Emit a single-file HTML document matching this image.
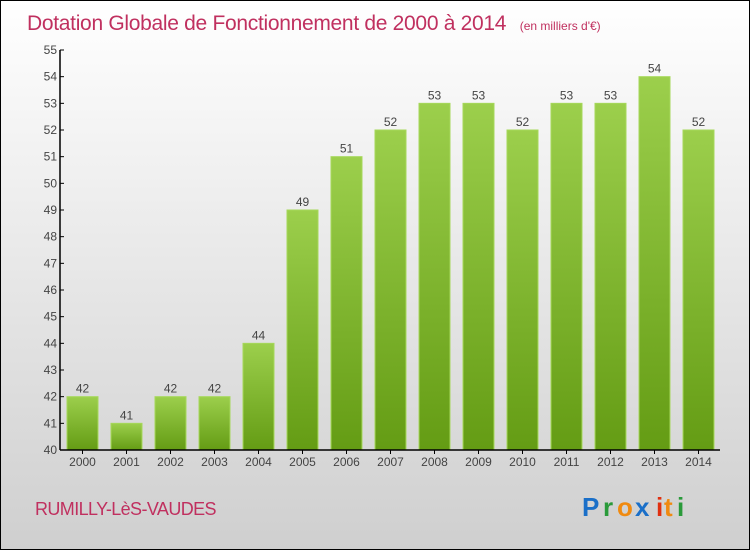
<!DOCTYPE html>
<html><head><meta charset="utf-8"><style>
body{margin:0;width:750px;height:550px;overflow:hidden}
svg{display:block;font-family:"Liberation Sans",sans-serif}
</style></head><body>
<svg id="c" width="750" height="550">
<defs>
<linearGradient id="bg" x1="0" y1="0" x2="0" y2="1"><stop offset="0" stop-color="#ffffff"/><stop offset="1" stop-color="#cfcfcf"/></linearGradient>
<linearGradient id="bar" x1="0" y1="0" x2="0" y2="1"><stop offset="0" stop-color="#9ccf4c"/><stop offset="1" stop-color="#649c14"/></linearGradient>
</defs>
<rect x="0.5" y="0.5" width="749" height="549" fill="url(#bg)" stroke="#000"/>
<text x="27" y="30" font-size="21" letter-spacing="-0.3" fill="#c0305f">Dotation Globale de Fonctionnement de 2000 à 2014 <tspan font-size="12" dx="8" letter-spacing="0">(en milliers d'€)</tspan></text>
<text x="35" y="515" font-size="18" letter-spacing="-0.6" fill="#c0305f">RUMILLY-LèS-VAUDES</text>
<g font-size="26" font-weight="bold">
<text x="582" y="516" fill="#1a6fc8">P</text><text x="603" y="516" fill="#2a9a3a">r</text><text x="617" y="516" fill="#f08a10">o</text><text x="635" y="516" fill="#1a6fc8">x</text><text x="656" y="516" fill="#e03010">i</text><text x="664" y="516" fill="#f08a10">t</text><text x="677" y="516" fill="#2a9a3a">i</text>
</g>
<g id="plot"></g>
</svg>
<script>
const years=["2000","2001","2002","2003","2004","2005","2006","2007","2008","2009","2010","2011","2012","2013","2014"];
const values=[42,41,42,42,44,49,51,52,53,53,52,53,53,54,52];
const yTicks=[40,41,42,43,44,45,46,47,48,49,50,51,52,53,54,55];
const NS="http://www.w3.org/2000/svg";
const g=document.getElementById('plot');
const yMin=40,yMax=55,y0=450,y1=50,xL=60;
const ys=v=>y0-(v-yMin)/(yMax-yMin)*(y0-y1);
const xs=i=>82.5+i*44;
function el(t,a,txt){const e=document.createElementNS(NS,t);for(const k in a)e.setAttribute(k,a[k]);if(txt!=null)e.textContent=txt;g.appendChild(e);return e;}
values.forEach((v,i)=>{
 const b=el('rect',{x:xs(i)-15.5,y:ys(v),width:31,height:y0-ys(v),fill:'url(#bar)',stroke:'#a6d85a','stroke-width':1});
 
 
 const l=el('text',{x:xs(i),y:ys(v)-4,'text-anchor':'middle','font-size':12,fill:'#444'},String(v));
 
 
 const t=el('text',{x:xs(i),y:466,'text-anchor':'middle','font-size':12,fill:'#444'},years[i]);
 
 
 el('line',{x1:xs(i),x2:xs(i),y1:y0,y2:y0+4,stroke:'#000'});
});
yTicks.forEach(v=>{
 el('line',{x1:xL,x2:xL+4,y1:ys(v),y2:ys(v),stroke:'#000'});
 const t=el('text',{x:xL-3,y:ys(v)+4,'text-anchor':'end','font-size':12,fill:'#444'},String(v));
 
 
});
const ya=el('line',{x1:xL,x2:xL,y1:y1,y2:y0,stroke:'#000','stroke-width':1.5});


const xa=el('line',{x1:xL,x2:720,y1:y0,y2:y0,stroke:'#000','stroke-width':1.5});


</script>
</body></html>
